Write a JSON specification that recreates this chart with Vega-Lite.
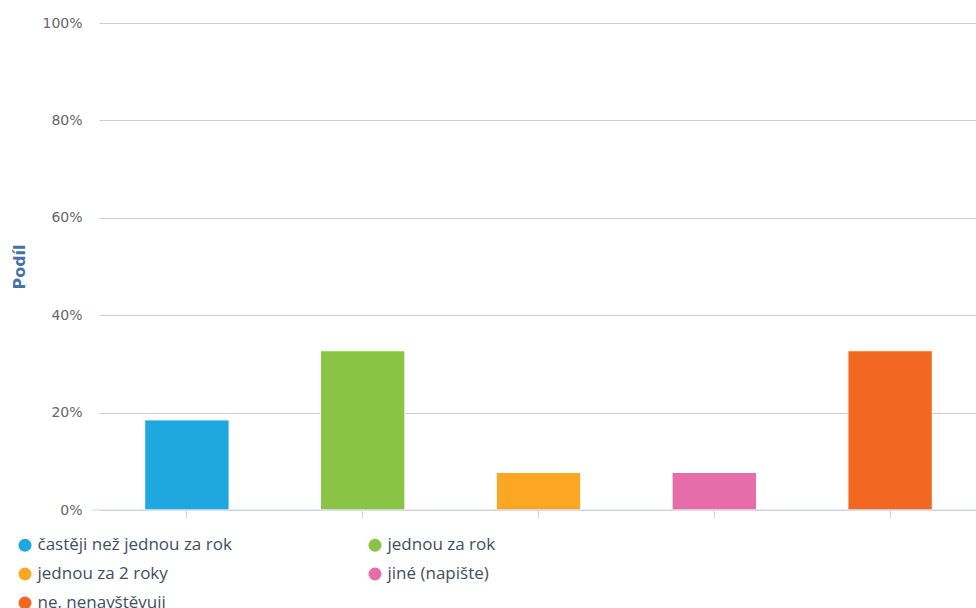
{
  "$schema": "https://vega.github.io/schema/vega-lite/v6.json",
  "width": 884,
  "height": 487,
  "padding": {"left": 92, "top": 23, "right": 0, "bottom": 98},
  "autosize": {"type": "none"},
  "background": "white",
  "data": {
    "values": [
      {"kategorie": "častěji než jednou za rok", "podil": 18.5},
      {"kategorie": "jednou za rok", "podil": 32.7},
      {"kategorie": "jednou za 2 roky", "podil": 7.7},
      {"kategorie": "jiné (napište)", "podil": 7.7},
      {"kategorie": "ne, nenavštěvuji", "podil": 32.7}
    ]
  },
  "layer": [
    {
      "mark": {"type": "bar", "stroke": "white", "strokeWidth": 1},
      "encoding": {
        "x": {
          "field": "kategorie",
          "type": "nominal",
          "sort": null,
          "scale": {"range": [7, 886], "paddingInner": 0.52, "paddingOuter": 0.26},
          "axis": {
            "title": null,
            "labels": false,
            "domain": false,
            "tickColor": "#ccd6eb",
            "tickSize": 8,
            "grid": false
          }
        },
        "y": {
          "field": "podil",
          "type": "quantitative",
          "scale": {"domain": [0, 100], "nice": false},
          "axis": {
            "title": "Podíl",
            "titleColor": "#4572a7",
            "titleFont": "DejaVu Sans",
            "titleFontSize": 16,
            "titleFontWeight": "bold",
            "titlePadding": 14,
            "values": [0, 20, 40, 60, 80, 100],
            "labelExpr": "datum.value + '%'",
            "labelColor": "#666666",
            "labelFont": "DejaVu Sans",
            "labelFontSize": 14,
            "labelPadding": 10,
            "domain": false,
            "ticks": false,
            "gridColor": "#cccccc",
            "gridWidth": 1
          }
        },
        "color": {
          "field": "kategorie",
          "type": "nominal",
          "sort": null,
          "scale": {
            "domain": ["častěji než jednou za rok", "jednou za rok", "jednou za 2 roky", "jiné (napište)", "ne, nenavštěvuji"],
            "range": ["#1fa8e0", "#8ac445", "#fba724", "#e76caa", "#f26822"]
          },
          "legend": {
            "title": null,
            "orient": "none",
            "legendX": -75.5,
            "legendY": 513.5,
            "direction": "horizontal",
            "columns": 2,
            "columnPadding": 134,
            "rowPadding": 11,
            "symbolType": "circle",
            "symbolSize": 169,
            "symbolStrokeWidth": 0,
            "labelFont": "Open Sans",
            "labelFontSize": 17,
            "labelColor": "#3e4f63",
            "labelOffset": 4,
            "labelLimit": 400
          }
        }
      }
    },
    {
      "data": {"values": [{"nula": 0}]},
      "mark": {"type": "rule", "color": "#ccd6eb", "strokeWidth": 1},
      "encoding": {
        "y": {"field": "nula", "type": "quantitative"}
      }
    }
  ],
  "config": {"view": {"stroke": null}}
}
